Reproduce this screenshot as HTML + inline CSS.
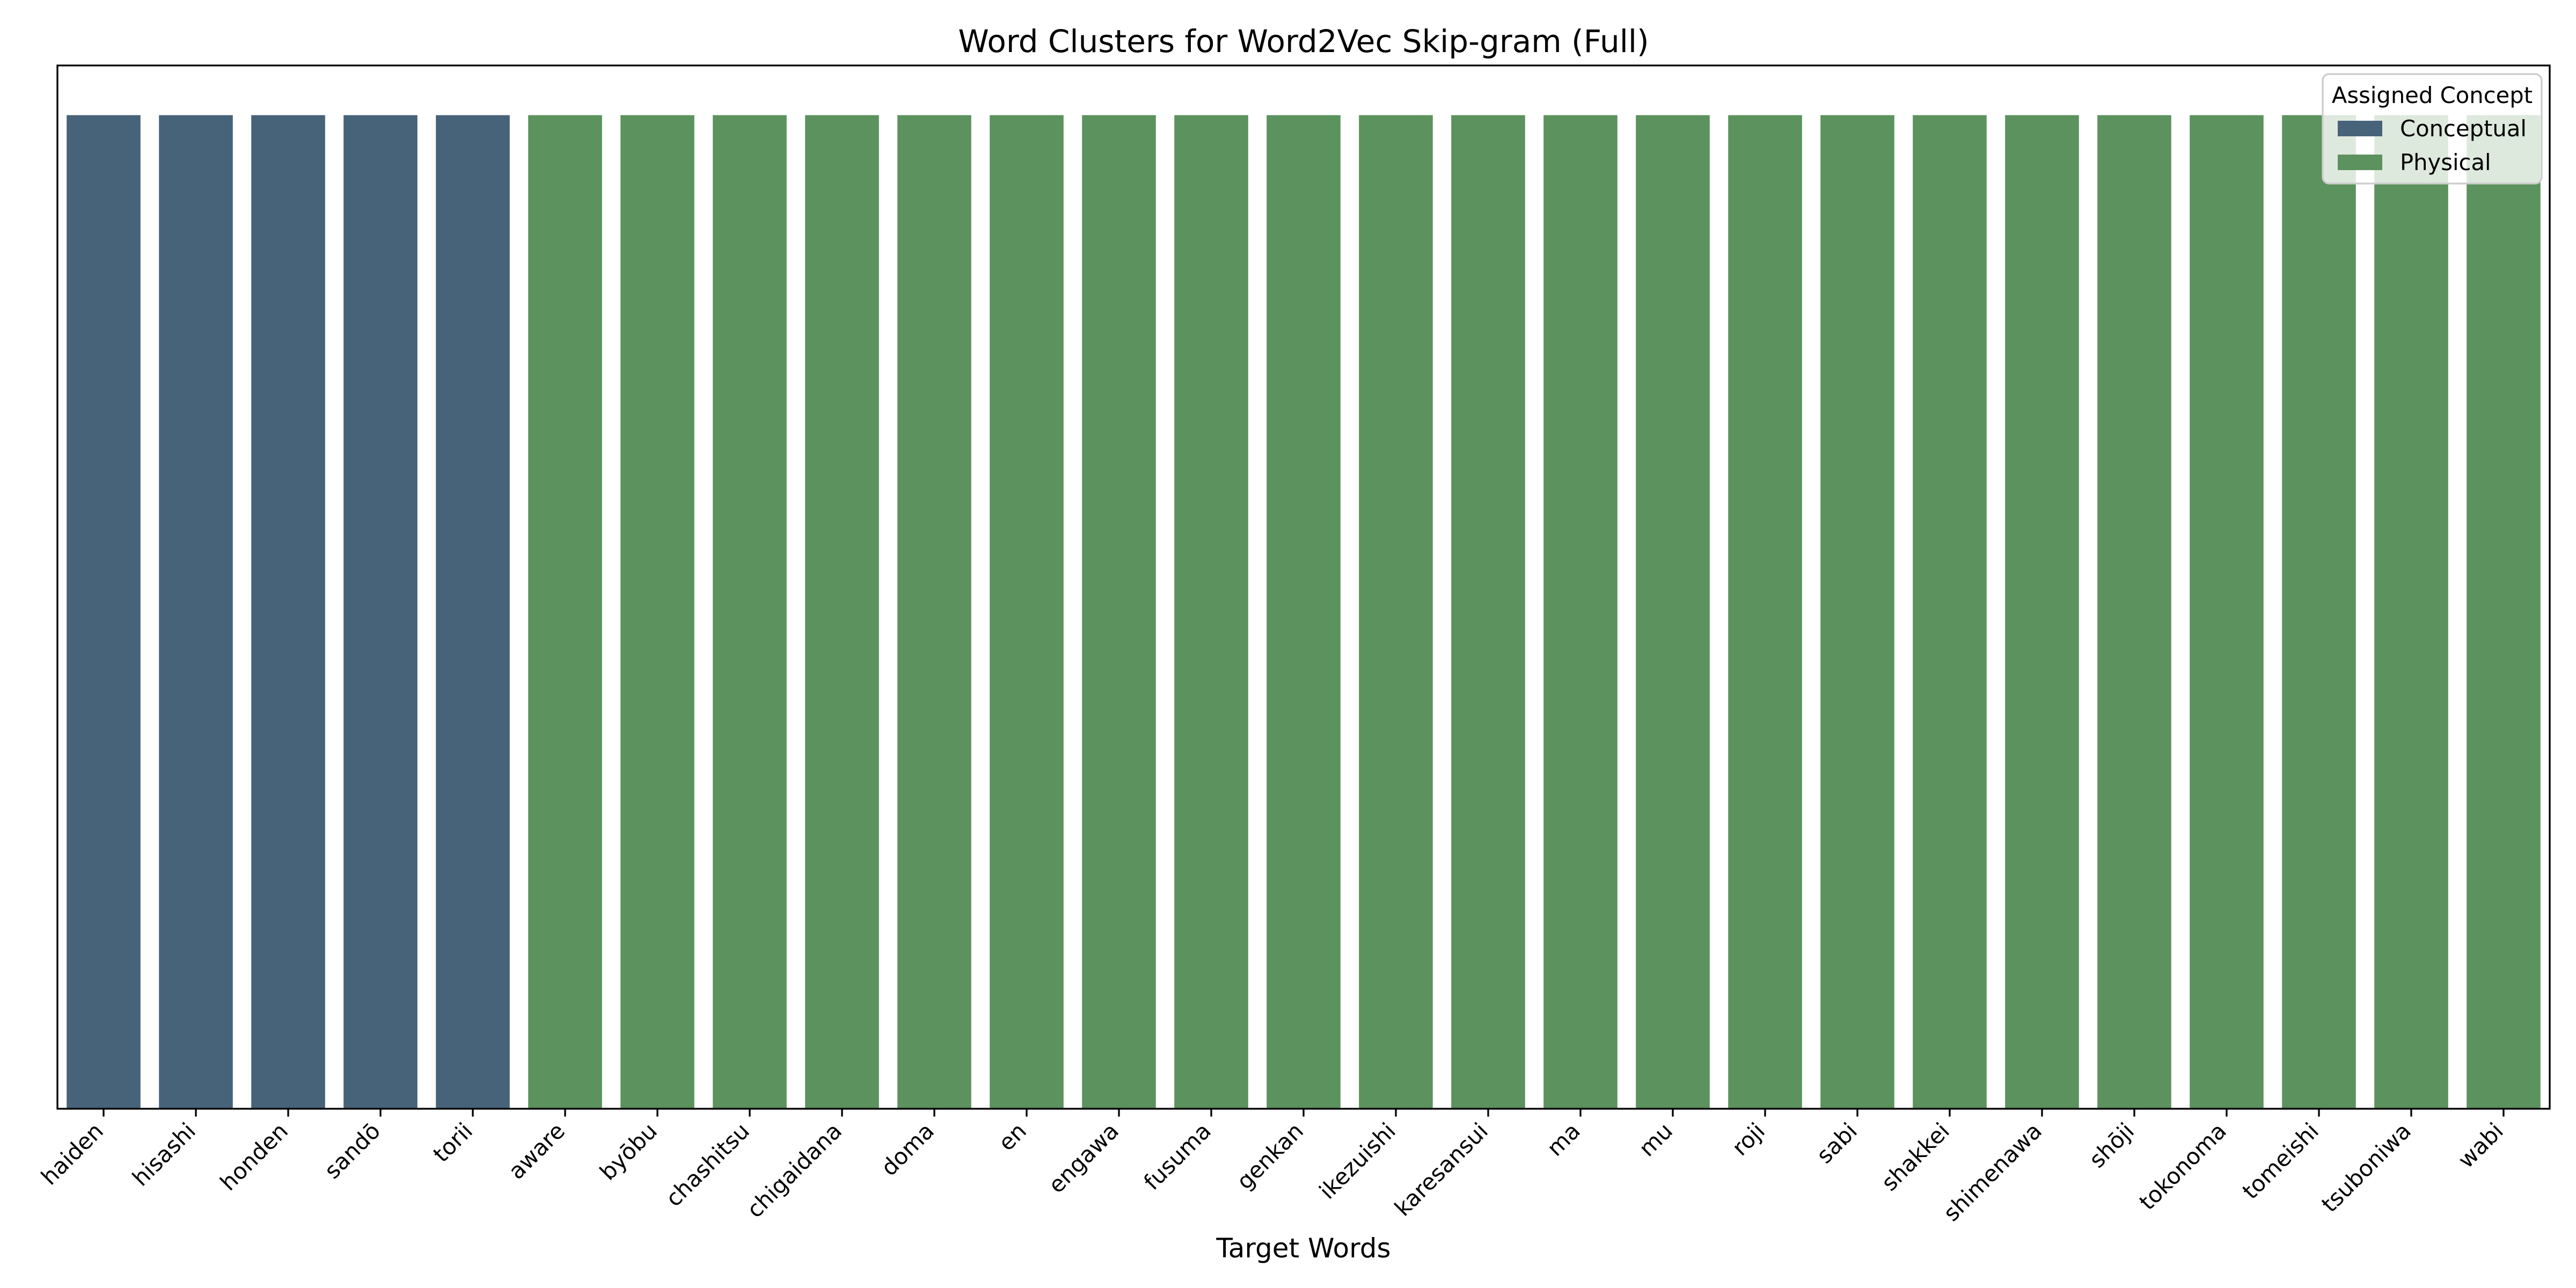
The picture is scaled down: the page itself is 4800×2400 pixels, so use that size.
<!DOCTYPE html>
<html><head><meta charset="utf-8"><style>
html,body{margin:0;padding:0;background:#fff}
svg{display:block}
text{font-family:"DejaVu Sans","Liberation Sans",sans-serif}
</style></head><body>
<svg id="chart" width="4800" height="2400" viewBox="0 0 4800 2400" xmlns="http://www.w3.org/2000/svg">
<rect x="0" y="0" width="4800" height="2400" fill="#fff"/>
<text x="2429" y="97" font-size="58" text-anchor="middle">Word Clusters for Word2Vec Skip-gram (Full)</text>
<g id="bars"></g>
<g id="ticks"></g>
<rect x="107" y="122" width="4644" height="1944" fill="none" stroke="#000" stroke-width="3.3"/>
<text x="2429" y="2343" font-size="50" text-anchor="middle">Target Words</text>
<g>
<rect x="4328" y="138" width="408" height="204" rx="12" fill="#fff" fill-opacity="0.8" stroke="#cccccc" stroke-width="3.3"/>
<text x="4532" y="192" font-size="41.7" text-anchor="middle">Assigned Concept</text>
<rect x="4356" y="225" width="83" height="29" fill="#47637a"/>
<text x="4472" y="254" font-size="41.7">Conceptual</text>
<rect x="4356" y="288" width="83" height="29" fill="#5b925d"/>
<text x="4472" y="317" font-size="41.7">Physical</text>
</g>
</svg>
<script>
const words = ["haiden","hisashi","honden","sandō","torii","aware","byōbu","chashitsu","chigaidana","doma","en","engawa","fusuma","genkan","ikezuishi","karesansui","ma","mu","roji","sabi","shakkei","shimenawa","shōji","tokonoma","tomeishi","tsuboniwa","wabi"];
const concepts = ["Conceptual","Conceptual","Conceptual","Conceptual","Conceptual","Physical","Physical","Physical","Physical","Physical","Physical","Physical","Physical","Physical","Physical","Physical","Physical","Physical","Physical","Physical","Physical","Physical","Physical","Physical","Physical","Physical","Physical"];
const values = [1,1,1,1,1,1,1,1,1,1,1,1,1,1,1,1,1,1,1,1,1,1,1,1,1,1,1];
const colorFor = {Conceptual:"#47637a", Physical:"#5b925d"};

const NS = "http://www.w3.org/2000/svg";
const L = 107, R = 4751, T = 122, B = 2066;
const nSlots = words.length;
const band = (R - L) / nSlots;
function xScale(i){ return L + (i + 0.5) * band; }
function yScale(v){ return B - (v / 1.05) * (B - T); }

const gb = document.getElementById('bars');
const gt = document.getElementById('ticks');
words.forEach((w, i) => {
  const cx = xScale(i);
  const r = document.createElementNS(NS, 'rect');
  r.setAttribute('x', cx - band * 0.4);
  r.setAttribute('width', band * 0.8);
  r.setAttribute('y', yScale(values[i]));
  r.setAttribute('height', B - yScale(values[i]));
  r.setAttribute('fill', colorFor[concepts[i]]);
  
  
  gb.appendChild(r);

  const l = document.createElementNS(NS, 'line');
  l.setAttribute('x1', cx); l.setAttribute('x2', cx);
  l.setAttribute('y1', B); l.setAttribute('y2', B + 14.6);
  l.setAttribute('stroke', '#000'); l.setAttribute('stroke-width', 3.3);
  
  
  gt.appendChild(l);

  const t = document.createElementNS(NS, 'text');
  t.textContent = w;
  t.setAttribute('font-size', '41.7');
  t.setAttribute('text-anchor', 'end');
  t.setAttribute('transform', 'translate(' + (cx + 2) + ',' + (B + 44) + ') rotate(-45)');
  
  
  gt.appendChild(t);
});
</script>
</body></html>
